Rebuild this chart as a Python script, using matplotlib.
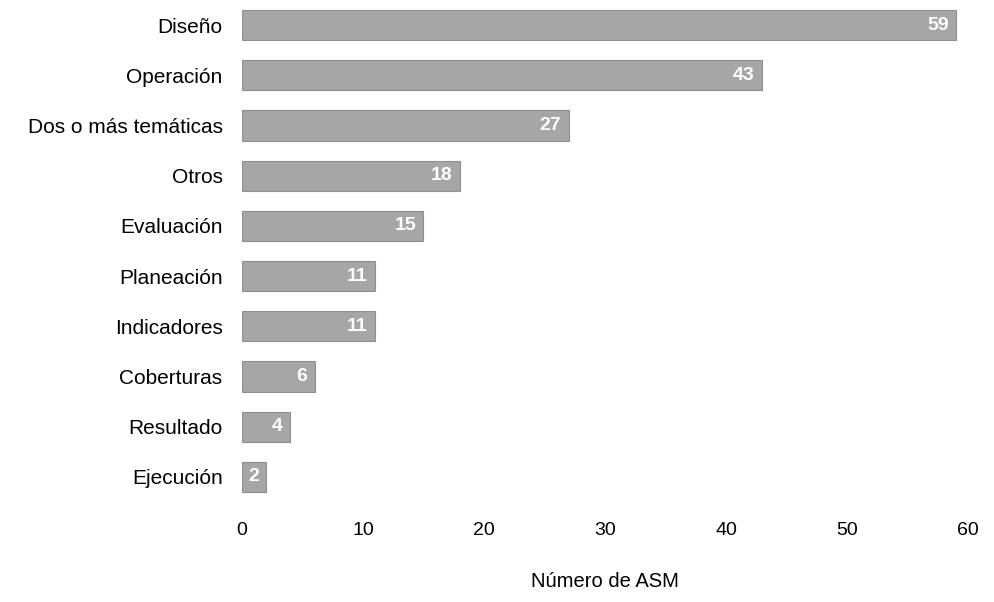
import matplotlib
matplotlib.use("Agg")
import matplotlib.pyplot as plt

categories = ["Diseño", "Operación", "Dos o más temáticas", "Otros", "Evaluación",
              "Planeación", "Indicadores", "Coberturas", "Resultado", "Ejecución"]
values = [59, 43, 27, 18, 15, 11, 11, 6, 4, 2]
xticks = [0, 10, 20, 30, 40, 50, 60]

plt.rcParams["font.family"] = ["Liberation Sans", "DejaVu Sans"]

fig = plt.figure(figsize=(9.95, 6.02), dpi=100)
ax = fig.add_axes([0.2432, 0.166, 0.7296, 0.834])

ypos = list(range(len(categories)))
ax.barh(ypos, values, height=0.6, color="#a6a6a6", edgecolor="#8f8f8f", linewidth=0.8)

# value labels sit inside the bar, near its end
for y, v in zip(ypos, values):
    ax.text(v - 0.6, y, str(v), ha="right", va="center", color="white",
            fontsize=14, fontweight="bold")

ax.set_xlim(0, 60)
ax.set_ylim(9.5, -0.5)
ax.set_yticks(ypos)
ax.set_yticklabels(categories, fontsize=15)
ax.set_xticks(xticks)
ax.set_xticklabels([str(t) for t in xticks], fontsize=14)
ax.tick_params(axis="both", length=0)
ax.tick_params(axis="y", pad=14)
ax.tick_params(axis="x", pad=14)
for s in ax.spines.values():
    s.set_visible(False)
ax.set_xlabel("Número de ASM", fontsize=14.5, labelpad=24)

fig.savefig("out.png", dpi=100)
